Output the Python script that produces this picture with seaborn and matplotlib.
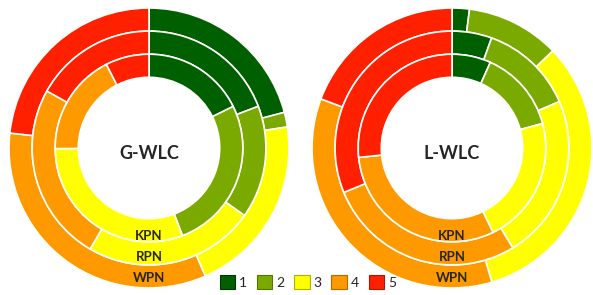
import matplotlib
matplotlib.use("Agg")
import matplotlib.pyplot as plt
from matplotlib.patches import Patch
import seaborn as sns

sns.set_style("white")
plt.rcParams['font.family'] = ['Lato', 'DejaVu Sans']

# 数据：每个环中 1~5 级所占比例 (%)
levels = ['1', '2', '3', '4', '5']
colors = ['#006000', '#7AAA00', '#FFFF00', '#FF9900', '#FF2000']
edge_colors = ['#003800', '#557700', '#B0B000', '#B06A00', '#B01500']
rings = ['WPN', 'RPN', 'KPN']

g_wpn = [20.9, 1.7, 20.8, 33.3, 23.3]
g_rpn = [19.2, 15.6, 23.6, 24.7, 16.9]
g_kpn = [17.7, 26.5, 30.7, 17.6, 7.5]

l_wpn = [2.0, 10.8, 32.6, 35.3, 19.3]
l_rpn = [5.5, 13.0, 22.8, 27.5, 31.2]
l_kpn = [6.7, 14.1, 22.0, 30.6, 26.6]


def donut(ax, title, wpn, rpn, kpn):
	# 外环到内环：WPN, RPN, KPN
	for vals, r in zip([wpn, rpn, kpn], [1.0, 0.835, 0.67]):
		ax.pie(vals, radius=r, colors=colors, startangle=90, counterclock=False,
		       wedgeprops=dict(width=0.165, edgecolor='white', linewidth=1.2))
	ax.text(0, -0.04, title, ha='center', va='center', fontsize=13, fontweight='bold')
	for name, y in zip(rings, [-0.93, -0.78, -0.63]):
		ax.text(0, y, name, ha='center', va='center', fontsize=9.5, fontweight='bold')
	ax.set_xlim(-1, 1)
	ax.set_ylim(-1, 1)
	ax.axis('off')


def main():
	fig = plt.figure(figsize=(5.93, 2.95), dpi=100)
	ax1 = fig.add_axes([9 / 593, 7 / 295, 280 / 593, 280 / 295])
	ax2 = fig.add_axes([312 / 593, 7 / 295, 280 / 593, 280 / 295])
	donut(ax1, 'G-WLC', g_wpn, g_rpn, g_kpn)
	donut(ax2, 'L-WLC', l_wpn, l_rpn, l_kpn)

	handles = [Patch(facecolor=c, edgecolor=e, linewidth=0.8) for c, e in zip(colors, edge_colors)]
	fig.legend(handles, levels, loc='center', bbox_to_anchor=(308 / 593, 1 - 282 / 295),
	           ncol=5, frameon=False, fontsize=10, handlelength=1.1, handleheight=1.1,
	           handletextpad=0.3, columnspacing=0.7, borderpad=0)
	fig.savefig('out.png', dpi=100)


if __name__ == '__main__':
	main()
